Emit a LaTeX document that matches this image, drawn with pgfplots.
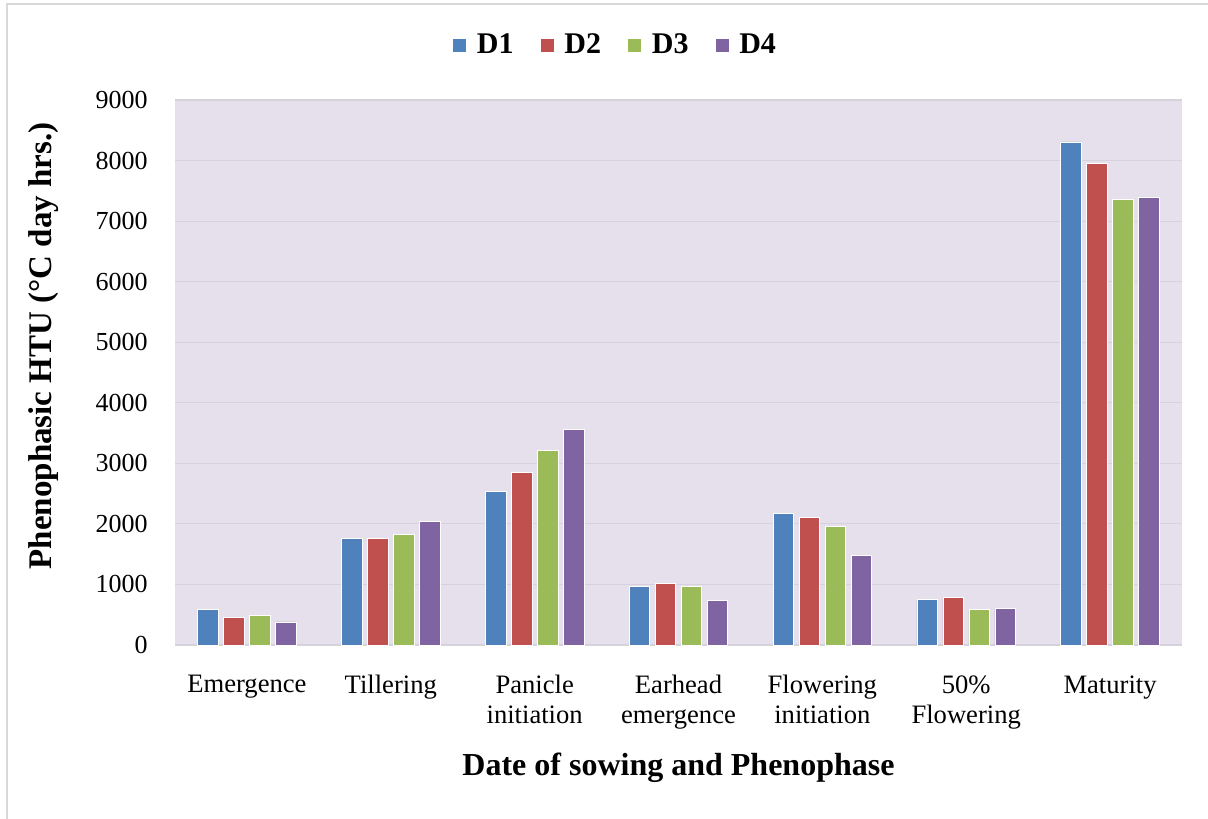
\documentclass[border=0pt]{standalone}
\usepackage{pgfplots}
\pgfplotsset{compat=1.18}
\usepackage{pgfplotstable}
\usepackage{fontspec}
\setmainfont{Liberation Serif}
\definecolor{cD1}{HTML}{4F81BD}
\definecolor{cD2}{HTML}{C0504D}
\definecolor{cD3}{HTML}{9BBB59}
\definecolor{cD4}{HTML}{8064A2}
\definecolor{bgcol}{HTML}{E6E0EC}
\definecolor{gridcol}{HTML}{D6D2DC}
\definecolor{framecol}{HTML}{D9D9D9}
\pgfplotstableread{
x D1 D2 D3 D4
0 580 453 486 381
1 1758 1758 1824 2045
2 2537 2852 3217 3566
3 967 1011 962 730
4 2172 2111 1952 1476
5 746 791 580 602
6 8308 7948 7352 7391
}\datatable
\begin{document}
\begin{tikzpicture}
\useasboundingbox (-87.5pt,-86.5pt) rectangle (516.5pt,322.5pt);
\draw[framecol, line width=0.8pt] (-84pt,-90pt) -- (-84pt,320.5pt) -- (520pt,320.5pt);
\begin{axis}[
  at={(0pt,0pt)}, anchor=south west,
  scale only axis,
  width=503.5pt, height=272.5pt,
  xmin=-0.5, xmax=6.5,
  ymin=0, ymax=9000,
  ytick={0,1000,...,9000},
  xtick={0,1,2,3,4,5,6},
  xticklabels={Emergence,Tillering,Panicle\\initiation,Earhead\\emergence,Flowering\\initiation,50\%\\Flowering,Maturity},
  major tick length=0pt,
  axis x line*=bottom,
  axis y line*=left,
  y axis line style={draw=none},
  x axis line style={draw=gridcol, line width=0.8pt, -},
  axis background/.style={fill=bgcol},
  ymajorgrids,
  major grid style={gridcol, line width=0.6pt},
  /pgf/number format/assume math mode=true,
  /pgf/number format/1000 sep={},
  yticklabel style={font=\fontsize{13}{15}\selectfont, anchor=east, inner sep=0pt, xshift=-13.5pt},
  xticklabel style={font=\fontsize{13.3}{15}\selectfont, align=center, anchor=north, inner sep=0pt, yshift=-15pt},
  ybar=2.7pt,
  bar width=10.3pt,
  ylabel={Phenophasic HTU (°C day hrs.)},
  ylabel style={font=\bfseries\fontsize{16.5}{18}\selectfont, at={(axis description cs:-0.130,0.549)}, anchor=center},
  xlabel={Date of sowing and Phenophase},
  xlabel style={font=\bfseries\fontsize{16}{18}\selectfont, at={(axis description cs:0.5,-0.2257)}, anchor=center},
  legend columns=4,
  legend style={draw=none, fill=none, at={(axis description cs:0.438,1.101)}, anchor=center,
    font=\bfseries\fontsize{15}{18}\selectfont,
    /tikz/every odd column/.append style={column sep=3pt},
    /tikz/every even column/.append style={column sep=11pt}},
  legend image code/.code={\fill[#1] (0pt,-3.5pt) rectangle (7pt,3.5pt);},
]
\addplot[fill=cD1, draw=white, line width=0.4pt] table[x=x, y=D1] {\datatable};
\addplot[fill=cD2, draw=white, line width=0.4pt] table[x=x, y=D2] {\datatable};
\addplot[fill=cD3, draw=white, line width=0.4pt] table[x=x, y=D3] {\datatable};
\addplot[fill=cD4, draw=white, line width=0.4pt] table[x=x, y=D4] {\datatable};
\legend{D1,D2,D3,D4}
\end{axis}
\end{tikzpicture}
\end{document}
